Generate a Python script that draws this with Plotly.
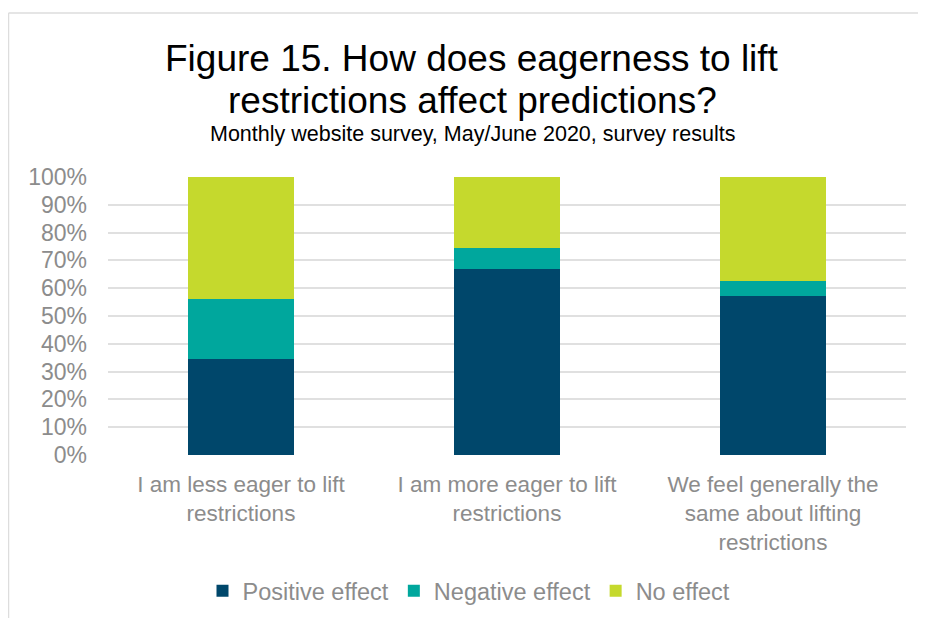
import plotly.graph_objects as go

categories = [
    "I am less eager to lift<br>restrictions",
    "I am more eager to lift<br>restrictions",
    "We feel generally the<br>same about lifting<br>restrictions",
]
positive = [34.6, 67.0, 57.2]
negative = [21.6, 7.6, 5.5]
no_effect = [43.8, 25.4, 37.3]
series_names = ["Positive effect", "Negative effect", "No effect"]
colors = ["#00476B", "#00A79D", "#C5D92D"]
title_lines = ["Figure 15. How does eagerness to lift", "restrictions affect predictions?"]
subtitle = "Monthly website survey, May/June 2020, survey results"

OFF = 8  # page body margin
W, H = 918, 610
# plot area in page pixels: x 108..906, y 177..455
L, T = 108 - OFF, 177 - OFF
R = W - (906 - OFF)
B = H - (455 - OFF)
pw, ph = W - L - R, H - T - B


def px_x(x):
    return (x - OFF - L) / pw


def px_y(y):
    return (H - B - (y - OFF)) / ph


fig = go.Figure()
for name, vals, col in zip(series_names, [positive, negative, no_effect], colors):
    fig.add_trace(go.Bar(x=categories, y=vals, name=name, marker=dict(color=col, line=dict(width=0))))

gray = "#8C8C8C"
fig.update_layout(
    width=W, height=H,
    margin=dict(l=L, r=R, t=T, b=B, autoexpand=False),
    barmode="stack", bargap=0.6,
    paper_bgcolor="white", plot_bgcolor="white",
    font=dict(family="Liberation Sans, Arial, sans-serif", size=23, color=gray),
    showlegend=True,
    legend=dict(orientation="h", x=px_x(469), xanchor="center", y=px_y(591), yanchor="middle",
                font=dict(size=23.5, color=gray), traceorder="normal", itemwidth=30),
    xaxis=dict(showgrid=False, showline=False, ticks="", tickfont=dict(size=22.5, color=gray),
               ticklabelstandoff=13),
    yaxis=dict(range=[0, 100], dtick=10, ticksuffix="%", showgrid=True, gridcolor="#E0E0E0",
               gridwidth=1.5, zeroline=False, showline=False, ticks="",
               tickfont=dict(size=23, color=gray), ticklabelstandoff=20),
    annotations=[
        dict(text=title_lines[0],
             x=px_x(472), y=px_y(58), xref="paper", yref="paper", xanchor="center", yanchor="middle",
             showarrow=False, font=dict(size=37, color="#000000")),
        dict(text=title_lines[1],
             x=px_x(472), y=px_y(101), xref="paper", yref="paper", xanchor="center", yanchor="middle",
             showarrow=False, font=dict(size=37, color="#000000")),
        dict(text=subtitle,
             x=px_x(472), y=px_y(134), xref="paper", yref="paper", xanchor="center", yanchor="middle",
             showarrow=False, font=dict(size=21.5, color="#000000")),
    ],
    shapes=[
        dict(type="line", xref="paper", yref="paper", x0=px_x(8.5), x1=px_x(940), y0=px_y(13), y1=px_y(13),
             line=dict(color="#DDDDDD", width=1.5)),
        dict(type="line", xref="paper", yref="paper", x0=px_x(8.5), x1=px_x(8.5), y0=px_y(13), y1=px_y(630),
             line=dict(color="#DDDDDD", width=1.5)),
    ],
)

fig.write_html("out.html")
